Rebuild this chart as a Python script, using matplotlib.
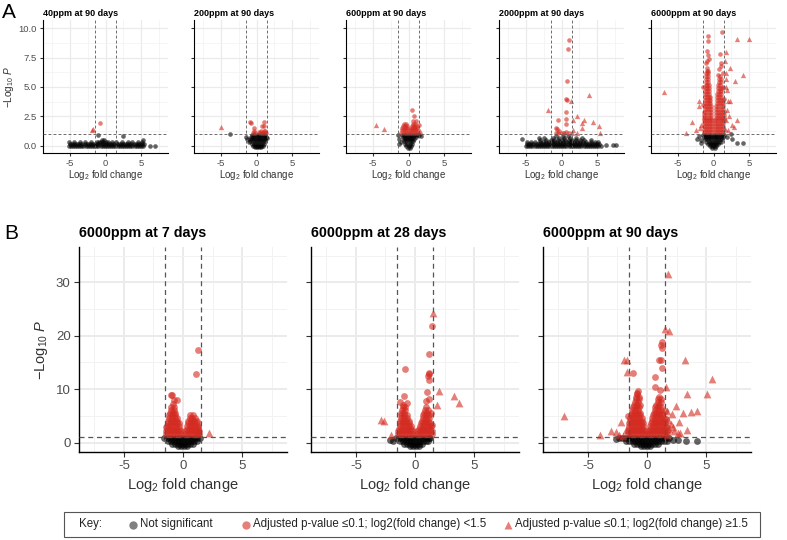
import matplotlib.pyplot as plt
from matplotlib.lines import Line2D
from matplotlib.patches import Rectangle

plt.rcParams['font.family'] = ['Liberation Sans', 'DejaVu Sans']
plt.rcParams['mathtext.fontset'] = 'custom'
plt.rcParams['mathtext.rm'] = 'Liberation Sans'
plt.rcParams['mathtext.it'] = 'Liberation Sans:italic'
plt.rcParams['axes.unicode_minus'] = False

RED = '#D42A20'

# ---- data: (y, [x ...]) rows for the dense clouds, (x, y) for single points ----
top_titles = ['40ppm at 90 days', '200ppm at 90 days', '600ppm at 90 days',
              '2000ppm at 90 days', '6000ppm at 90 days']
bottom_titles = ['6000ppm at 7 days', '6000ppm at 28 days', '6000ppm at 90 days']

# 40ppm, 90 days
a40_ns_rows = [
    (0.0, [-5.2, -4.9, -4.6, -4.3, -4.0, -3.7, -3.4, -3.1, -2.8, -2.5, -2.2, -1.9, -1.6, -1.3, -1.0, -0.7,
           -0.4, -0.1, 0.2, 0.5, 0.8, 1.1, 1.4, 1.7, 2.0, 2.3, 2.6, 2.9, 3.2, 3.5, 3.8, 4.1, 4.4, 4.7, 5.0, 5.3]),
    (0.16, [-5.05, -4.75, -4.45, -4.15, -3.85, -3.55, -3.25, -2.95, -2.65, -2.35, -2.05, -1.75, -1.45, -1.15,
            -0.85, -0.55, -0.25, 0.05, 0.35, 0.65, 0.95, 1.25, 1.55, 1.85, 2.15, 2.45, 2.75, 3.05, 3.35,
            3.65, 3.95, 4.25, 4.55, 4.85, 5.15, 5.45]),
    (0.32, [-5.1, -4.4, -3.6, -2.9, -2.0, -1.2, -0.9, -0.6, -0.3, 0.0, 0.4, 0.9, 1.5, 2.3, 3.1, 3.8, 4.6, 5.2]),
]
a40_ns_pts = [(-0.5, 0.5), (-0.2, 0.45), (-1.0, 0.9), (2.4, 0.8), (5.3, 0.5), (6.3, 0.0), (7.0, 0.0)]
a40_sig_rows = []
a40_sig_pts = [(-0.8, 1.9)]
a40_up_pts = [(-1.95, 1.35), (-1.75, 1.45)]

# 200ppm, 90 days
a200_ns_rows = [
    (0.9, [-0.6, -0.3, 0.0, 0.3, 0.6, 0.9, 1.2]),
    (0.72, [-0.8, -0.5, -0.2, 0.1, 0.4, 0.7, 1.0, 1.3]),
    (0.54, [-0.9, -0.6, -0.3, 0.0, 0.3, 0.6, 0.9, 1.2]),
    (0.36, [-0.85, -0.55, -0.25, 0.05, 0.35, 0.65, 0.95, 1.2]),
    (0.18, [-0.7, -0.4, -0.1, 0.2, 0.5, 0.8, 1.0]),
    (0.0, [-0.5, -0.2, 0.1, 0.4, 0.7, 0.9]),
    (-0.15, [-0.2, 0.1, 0.4, 0.6]),
]
a200_ns_pts = [(-3.7, 1.0), (-1.5, 0.7), (-1.3, 0.55), (-1.1, 0.35), (1.5, 0.65)]
a200_sig_rows = [
    (1.08, [-0.5, -0.2, 0.5, 0.8, 1.1, 1.3]),
    (1.28, [-0.4, 0.7, 1.0, 1.2]),
]
a200_sig_pts = [(-0.9, 2.0), (-0.8, 1.95), (1.0, 2.0), (0.75, 1.65), (1.1, 1.65), (-0.4, 1.5), (0.3, 1.2)]
a200_up_pts = [(-5.0, 1.6)]

# 600ppm, 90 days
a600_ns_rows = [
    (0.9, [-0.9, -0.6, -0.3, 0.0, 0.3, 0.6, 0.9, 1.2]),
    (0.72, [-0.8, -0.5, -0.2, 0.1, 0.4, 0.7, 1.0]),
    (0.54, [-0.7, -0.4, -0.1, 0.2, 0.5, 0.8]),
    (0.36, [-0.6, -0.3, 0.0, 0.3, 0.6]),
    (0.18, [-0.45, -0.15, 0.15, 0.45]),
    (0.0, [-0.3, 0.0, 0.3]),
    (-0.18, [-0.1, 0.2]),
]
a600_ns_pts = [(-1.5, 0.9), (-1.3, 0.6), (-1.1, 0.3), (-1.4, 0.15), (1.5, 0.9), (1.7, 0.85)]
a600_sig_rows = [
    (1.1, [-1.0, -0.7, -0.4, -0.1, 0.2, 0.5, 0.8, 1.1, 1.4]),
    (1.3, [-0.9, -0.6, -0.3, 0.0, 0.3, 0.6, 0.9, 1.2]),
    (1.5, [-0.85, -0.55, -0.25, 0.35, 0.65, 0.95, 1.25]),
    (1.7, [-0.8, -0.5, -0.2, 0.5, 0.8, 1.05]),
    (1.85, [-0.6, -0.3, 0.6, 0.9]),
]
a600_sig_pts = [(0.55, 3.0), (0.8, 2.55), (1.45, 1.8), (1.0, 2.1), (0.65, 2.1)]
a600_up_pts = [(-4.6, 1.8), (-3.5, 1.4), (1.6, 1.25)]

# 2000ppm, 90 days
a2000_ns_rows = [
    (0.0, [-5.0, -4.7, -4.4, -4.1, -3.8, -3.5, -3.2, -2.9, -2.6, -2.3, -2.0, -1.7, -1.4, -1.1, -0.8, -0.5,
           -0.2, 0.1, 0.4, 0.7, 1.0, 1.3, 1.6, 1.9, 2.2, 2.5, 2.8, 3.1, 3.4, 3.7, 4.0, 4.3, 4.6, 4.9, 5.2, 5.5]),
    (0.16, [-4.85, -4.55, -4.25, -3.95, -3.65, -3.35, -3.05, -2.75, -2.45, -2.15, -1.85, -1.55, -1.25, -0.95,
            -0.65, -0.35, -0.05, 0.25, 0.55, 0.85, 1.15, 1.45, 1.75, 2.05, 2.35, 2.65, 2.95, 3.25, 3.55,
            3.85, 4.15, 4.45, 4.75, 5.05, 5.35]),
    (0.32, [-4.9, -4.3, -3.8, -3.0, -2.6, -2.2, -1.8, -1.4, -1.0, -0.6, -0.2, 0.2, 0.6, 1.0, 1.4, 1.8, 2.2,
            2.6, 3.0, 3.5, 4.1, 4.7, 5.2]),
    (0.5, [-3.0, -2.2, -1.5, -1.0, -0.5, 0.0, 0.5, 1.0, 1.5, 2.0, 2.6, 3.2, 4.1]),
    (0.66, [-3.2, -2.5, -1.2, -0.3, 0.4, 1.2, 2.0, 2.9]),
]
a2000_ns_pts = [(-5.6, 0.6), (-0.8, 0.8), (0.2, 0.85), (0.9, 0.8), (6.3, 0.1), (7.3, 0.1), (7.7, 0.1)]
a2000_sig_rows = []
a2000_sig_pts = [(1.02, 9.0), (0.88, 8.2), (0.83, 5.5), (0.65, 4.0), (0.74, 3.85), (0.6, 2.9), (-0.46, 2.2),
                 (0.7, 2.3), (-0.8, 1.5), (-0.65, 1.4), (0.6, 1.87), (0.7, 1.13), (-0.8, 1.05), (-0.5, 1.05),
                 (0.1, 1.05), (0.4, 1.1), (-0.3, 1.25), (1.0, 1.05)]
a2000_up_pts = [(3.84, 4.3), (1.34, 3.8), (-1.94, 3.0), (2.2, 2.5), (1.57, 2.15), (3.15, 2.2), (2.87, 1.95),
                (4.5, 2.0), (2.82, 1.5), (5.3, 1.7), (1.43, 1.05), (2.2, 1.05), (5.4, 1.05), (1.6, 1.3)]

# 6000ppm, 90 days (top row)
a6000_ns_rows = [
    (0.95, [-1.5, -1.2, -0.9, -0.6, -0.3, 0.0, 0.3, 0.6, 0.9, 1.2, 1.5]),
    (0.75, [-1.4, -1.1, -0.8, -0.5, -0.2, 0.1, 0.4, 0.7, 1.0, 1.3]),
    (0.55, [-1.2, -0.9, -0.6, -0.3, 0.0, 0.3, 0.6, 0.9, 1.2]),
    (0.35, [-1.0, -0.7, -0.4, -0.1, 0.2, 0.5, 0.8, 1.0]),
    (0.15, [-0.8, -0.5, -0.2, 0.1, 0.4, 0.7]),
    (-0.05, [-0.5, -0.2, 0.1, 0.4]),
    (-0.22, [-0.15, 0.15]),
]
a6000_ns_pts = [(-2.0, 0.8), (-1.8, 0.5), (-2.3, 0.6), (-1.7, 0.25), (2.45, 1.0), (2.55, 0.6), (1.9, 0.7),
                (3.3, 0.2), (4.2, 0.2)]
a6000_sig_rows = [
    (1.15, [-1.4, -1.1, -0.8, -0.5, -0.2, 0.2, 0.5, 0.8, 1.1, 1.4]),
    (1.4, [-1.4, -1.1, -0.8, -0.5, -0.2, 0.2, 0.5, 0.8, 1.1, 1.4]),
    (1.65, [-1.4, -1.1, -0.8, -0.5, -0.2, 0.2, 0.5, 0.8, 1.1, 1.4]),
    (1.9, [-1.4, -1.1, -0.8, -0.5, -0.2, 0.2, 0.5, 0.8, 1.1, 1.4]),
    (2.15, [-1.35, -1.05, -0.75, -0.45, -0.2, 0.25, 0.55, 0.85, 1.15, 1.45]),
    (2.4, [-1.3, -1.0, -0.7, -0.4, 0.3, 0.6, 0.9, 1.2, 1.45]),
    (2.65, [-1.3, -1.0, -0.7, -0.4, 0.3, 0.6, 0.9, 1.2, 1.45]),
    (2.9, [-1.3, -1.0, -0.7, -0.4, 0.3, 0.6, 0.9, 1.2, 1.45]),
    (3.15, [-1.25, -0.95, -0.65, -0.4, 0.4, 0.7, 1.0, 1.3]),
    (3.4, [-1.25, -0.95, -0.65, -0.4, 0.4, 0.7, 1.0, 1.3]),
    (3.65, [-1.2, -0.95, -0.7, -0.45, 0.5, 0.8, 1.1, 1.35]),
    (3.9, [-1.2, -0.95, -0.7, -0.45, 0.5, 0.8, 1.1, 1.35]),
    (4.15, [-1.2, -0.95, -0.7, -0.45, 0.5, 0.8, 1.1]),
    (4.4, [-1.15, -0.9, -0.65, 0.55, 0.8, 1.1]),
    (4.65, [-1.15, -0.9, -0.65, 0.6, 0.85, 1.1]),
    (4.9, [-1.1, -0.85, -0.6, 0.7, 0.95, 1.2]),
    (5.15, [-1.1, -0.85, -0.6, 0.7, 0.95]),
    (5.4, [-1.05, -0.8, 0.75, 1.0]),
    (5.65, [-1.05, -0.8, 0.8, 1.0]),
    (5.9, [-1.0, -0.75, 0.85]),
    (6.15, [-1.0, -0.75]),
    (6.4, [-0.95, -0.75]),
    (6.65, [-0.9]),
]
a6000_sig_pts = [(-0.9, 7.2), (-0.8, 7.7), (-0.85, 8.1), (-0.74, 8.9), (-0.8, 9.3), (-1.1, 7.0), (-0.6, 7.4),
                 (1.16, 9.7), (0.88, 7.8), (1.0, 7.0), (0.8, 6.5), (1.3, 6.2), (0.7, 6.0), (1.0, 6.8),
                 (-1.45, 5.0), (-1.5, 3.5), (1.4, 5.0), (1.5, 4.0)]
a6000_up_pts = [(3.33, 9.1), (5.0, 9.1), (-6.9, 4.6), (4.1, 6.0), (3.05, 5.5), (2.3, 6.6), (-2.1, 3.8),
                (-2.1, 3.4), (-3.05, 2.0), (-3.85, 1.1), (3.33, 2.2), (2.0, 3.8), (2.3, 3.8), (1.8, 5.0),
                (1.9, 4.7), (1.7, 6.2), (1.8, 5.7), (1.9, 3.0), (2.2, 2.5), (2.6, 1.8), (2.9, 1.6),
                (-1.7, 1.8), (-1.9, 1.5), (-2.5, 1.3), (1.6, 7.2), (1.7, 8.0), (2.0, 1.3), (1.7, 2.2),
                (1.65, 1.4)]

# 6000ppm, 7 days
b7_ns_rows = [
    (0.8, [-1.6, -1.35, -1.1, -0.85, -0.6, -0.35, -0.1, 0.15, 0.4, 0.65, 0.9, 1.15, 1.4]),
    (0.3, [-1.3, -1.05, -0.8, -0.55, -0.3, -0.05, 0.2, 0.45, 0.7, 0.95, 1.2]),
    (-0.2, [-0.9, -0.65, -0.4, -0.15, 0.1, 0.35, 0.6, 0.85]),
    (-0.6, [-0.4, -0.15, 0.1, 0.35]),
]
b7_ns_pts = []
b7_sig_rows = [
    (1.6, [-1.4, -1.15, -0.9, -0.65, -0.4, -0.15, 0.15, 0.4, 0.65, 0.9, 1.15, 1.35]),
    (2.1, [-1.4, -1.15, -0.9, -0.65, -0.4, -0.15, 0.15, 0.4, 0.65, 0.9, 1.15, 1.35]),
    (2.6, [-1.35, -1.1, -0.85, -0.6, -0.35, 0.3, 0.55, 0.8, 1.05, 1.3]),
    (3.1, [-1.35, -1.1, -0.85, -0.6, -0.35, 0.3, 0.55, 0.8, 1.05, 1.3]),
    (3.6, [-1.3, -1.05, -0.8, -0.55, -0.35, 0.4, 0.65, 0.9, 1.15]),
    (4.1, [-1.25, -1.0, -0.75, -0.5, 0.45, 0.7, 0.95, 1.15]),
    (4.6, [-1.2, -0.95, -0.7, -0.5, 0.55, 0.8, 1.05]),
    (5.1, [-1.15, -0.9, -0.65, 0.6, 0.85]),
    (5.6, [-1.1, -0.85, -0.65]),
    (6.1, [-1.05, -0.8]),
    (6.6, [-1.0, -0.75]),
]
b7_sig_pts = [(1.27, 17.4), (1.1, 12.8), (-1.0, 9.0), (-0.9, 9.0), (-0.8, 8.0), (-0.55, 8.0), (-0.85, 7.2),
              (-1.4, 3.0), (1.25, 3.0), (1.3, 1.9)]
b7_up_pts = [(2.2, 1.9)]

# 6000ppm, 28 days
b28_ns_rows = [
    (0.8, [-1.6, -1.35, -1.1, -0.85, -0.6, -0.35, -0.1, 0.15, 0.4, 0.65, 0.9, 1.15, 1.3]),
    (0.3, [-1.3, -1.05, -0.8, -0.55, -0.3, -0.05, 0.2, 0.45, 0.7, 0.95, 1.1]),
    (-0.2, [-0.9, -0.65, -0.4, -0.15, 0.1, 0.35, 0.6]),
    (-0.6, [-0.45, -0.2, 0.05, 0.3]),
]
b28_ns_pts = [(-1.85, 0.25), (-2.1, 0.5)]
b28_sig_rows = [
    (1.6, [-1.4, -1.15, -0.9, -0.65, -0.4, -0.15, 0.15, 0.4, 0.65, 0.9, 1.15, 1.4]),
    (2.1, [-1.4, -1.15, -0.9, -0.65, -0.4, -0.15, 0.15, 0.4, 0.65, 0.9, 1.15, 1.4]),
    (2.6, [-1.35, -1.1, -0.85, -0.6, -0.35, 0.3, 0.55, 0.8, 1.05, 1.3]),
    (3.1, [-1.3, -1.05, -0.8, -0.55, -0.35, 0.4, 0.65, 0.9, 1.15, 1.35]),
    (3.6, [-1.3, -1.05, -0.8, -0.55, 0.5, 0.75, 1.0, 1.25]),
    (4.1, [-1.25, -1.0, -0.75, -0.55, 0.6, 0.85, 1.1]),
    (4.6, [-1.2, -0.95, -0.7, 0.65, 0.9, 1.15]),
    (5.1, [-1.2, -0.95, -0.7, 0.7, 0.95, 1.2]),
    (5.6, [-1.15, -0.9, 0.8, 1.05]),
    (6.1, [-1.1, -0.85, 0.85, 1.1]),
    (6.6, [-1.05, -0.85, 0.95]),
    (7.1, [-1.0]),
]
b28_sig_pts = [(1.41, 21.9), (1.21, 16.6), (-0.82, 13.8), (1.15, 13.1), (1.2, 12.9), (1.1, 12.5), (1.2, 11.8),
               (-0.96, 8.8), (1.0, 9.5), (1.2, 8.2), (0.95, 7.8), (-1.3, 7.6), (-0.7, 7.4), (1.35, 5.5),
               (1.4, 3.4)]
b28_up_pts = [(1.55, 24.2), (2.0, 9.6), (3.3, 8.8), (3.7, 7.4), (1.9, 7.0), (-2.85, 4.3), (-2.65, 4.1),
              (-2.05, 1.5)]

# 6000ppm, 90 days (bottom row)
b90_ns_rows = [
    (0.8, [-2.4, -2.15, -1.9, -1.65, -1.4, -1.15, -0.9, -0.65, -0.4, -0.15, 0.1, 0.35, 0.6, 0.85, 1.1, 1.35,
           1.6, 1.9]),
    (0.3, [-1.8, -1.55, -1.3, -1.05, -0.8, -0.55, -0.3, -0.05, 0.2, 0.45, 0.7, 0.95, 1.2, 1.45, 1.7]),
    (-0.2, [-1.1, -0.85, -0.6, -0.35, -0.1, 0.15, 0.4, 0.65, 0.9]),
    (-0.6, [-0.5, -0.25, 0.0, 0.25]),
]
b90_ns_pts = [(2.6, 0.56), (3.3, 0.24), (4.27, 0.24), (-2.6, 0.7), (2.2, 0.5)]
b90_sig_rows = [
    (1.6, [-1.6, -1.35, -1.1, -0.85, -0.6, -0.35, -0.1, 0.15, 0.4, 0.65, 0.9, 1.15, 1.4, 1.65]),
    (2.1, [-1.6, -1.35, -1.1, -0.85, -0.6, -0.35, -0.1, 0.15, 0.4, 0.65, 0.9, 1.15, 1.4, 1.65]),
    (2.6, [-1.55, -1.3, -1.05, -0.8, -0.55, -0.3, 0.25, 0.5, 0.75, 1.0, 1.25, 1.5]),
    (3.1, [-1.55, -1.3, -1.05, -0.8, -0.55, -0.3, 0.25, 0.5, 0.75, 1.0, 1.25, 1.5]),
    (3.6, [-1.5, -1.25, -1.0, -0.75, -0.5, -0.3, 0.3, 0.55, 0.8, 1.05, 1.3, 1.5]),
    (4.1, [-1.45, -1.2, -0.95, -0.7, -0.45, 0.4, 0.65, 0.9, 1.15, 1.4]),
    (4.6, [-1.4, -1.15, -0.9, -0.65, -0.45, 0.45, 0.7, 0.95, 1.2, 1.4]),
    (5.1, [-1.35, -1.1, -0.85, -0.6, 0.5, 0.75, 1.0, 1.25]),
    (5.6, [-1.3, -1.05, -0.8, -0.6, 0.55, 0.8, 1.05, 1.3]),
    (6.1, [-1.25, -1.0, -0.75, 0.65, 0.9, 1.15]),
    (6.6, [-1.2, -0.95, -0.7, 0.7, 0.95, 1.2]),
    (7.1, [-1.1, -0.85, -0.6, 0.8, 1.05]),
    (7.6, [-1.0, -0.75, 0.9, 1.15]),
    (8.1, [-0.95, -0.7, 0.95, 1.2]),
    (8.6, [-0.9, -0.7, 1.05]),
    (9.1, [-0.85]),
    (9.6, [-0.8]),
]
b90_sig_pts = [(1.27, 18.9), (1.2, 18.2), (1.25, 17.8), (0.99, 15.4), (1.16, 15.4), (1.3, 14.0), (0.69, 12.3),
               (0.69, 10.5), (1.13, 9.8), (-0.83, 9.3), (-1.21, 13.0), (1.5, 6.0), (1.6, 4.5), (1.7, 3.0),
               (-1.6, 5.0)]
b90_up_pts = [(1.76, 31.6), (1.5, 21.3), (1.9, 20.8), (3.2, 15.5), (-1.96, 15.4), (-1.7, 15.4), (-1.73, 13.3),
              (5.5, 11.9), (1.62, 10.5), (3.35, 9.2), (5.05, 9.2), (-7.0, 4.9), (-2.16, 3.8), (-3.05, 2.2),
              (-3.98, 1.4), (-2.4, 1.5), (-2.0, 1.3), (-1.8, 2.3), (-2.6, 2.0), (1.7, 1.5), (1.9, 2.5),
              (2.0, 3.5), (2.16, 3.0), (2.08, 5.3), (2.42, 6.8), (2.7, 3.9), (3.06, 5.6), (3.75, 5.7),
              (4.19, 6.0), (3.4, 2.3), (2.6, 1.8), (2.8, 1.8), (1.8, 4.3), (1.7, 6.0), (2.3, 2.2)]

key_labels = ['Not significant',
              'Adjusted p-value \u22640.1; log2(fold change) <1.5',
              'Adjusted p-value \u22640.1; log2(fold change) \u22651.5']

FC_CUT = 1.5
P_CUT = 1.0


def unroll(rows, pts):
    xs, ys = [], []
    for y, xrow in rows:
        for x in xrow:
            xs.append(x)
            ys.append(y)
    for x, y in pts:
        xs.append(x)
        ys.append(y)
    return xs, ys


def volcano(ax, ns, sig, up, big):
    size = 24 if big else 11
    ax.scatter(*ns, s=size, c='black', alpha=0.6, lw=0, zorder=3)
    ax.scatter(*sig, s=size, c=RED, alpha=0.6, lw=0, zorder=3)
    ax.scatter(*up, s=size * 1.3, c=RED, alpha=0.6, lw=0, marker='^', zorder=3)

    lw = 0.9 if big else 0.6
    dash = (0, (4, 3)) if big else (0, (3.5, 2.5))
    for xv in (-FC_CUT, FC_CUT):
        ax.axvline(xv, color='#555555', lw=lw, ls=dash, zorder=4)
    ax.axhline(P_CUT, color='#555555', lw=lw, ls=dash, zorder=4)

    ax.set_xlim(-8.8, 8.8)
    ax.set_xticks([-5, 0, 5])
    ax.set_xticks([-7.5, -2.5, 2.5, 7.5], minor=True)
    if big:
        ax.set_ylim(-1.74, 36.6)
        ax.set_yticks([0, 10, 20, 30])
        ax.set_yticks([5, 15, 25, 35], minor=True)
    else:
        ax.set_ylim(-0.62, 10.7)
        ax.set_yticks([0, 2.5, 5, 7.5, 10])
        ax.set_yticklabels(['0.0', '2.5', '5.0', '7.5', '10.0'])
        ax.set_yticks([1.25, 3.75, 6.25, 8.75], minor=True)
    ax.grid(which='major', color='#EBEBEB', lw=1.4 if big else 0.9, zorder=0)
    ax.grid(which='minor', color='#F2F2F2', lw=0.7 if big else 0.5, zorder=0)
    ax.set_axisbelow(True)
    for side in ('top', 'right'):
        ax.spines[side].set_visible(False)
    for side in ('left', 'bottom'):
        ax.spines[side].set_linewidth(1.0 if big else 0.8)
    fs = 9.5 if big else 6.8
    ax.tick_params(which='major', length=3.5 if big else 2.5, width=0.8, color='#333333',
                   labelsize=fs, labelcolor='#4D4D4D', pad=2.5 if big else 2)
    ax.tick_params(which='minor', length=0)


fig = plt.figure(figsize=(7.87, 5.40), dpi=100)
W, H = 787.0, 540.0

top_data = [
    (a40_ns_rows, a40_ns_pts, a40_sig_rows, a40_sig_pts, a40_up_pts),
    (a200_ns_rows, a200_ns_pts, a200_sig_rows, a200_sig_pts, a200_up_pts),
    (a600_ns_rows, a600_ns_pts, a600_sig_rows, a600_sig_pts, a600_up_pts),
    (a2000_ns_rows, a2000_ns_pts, a2000_sig_rows, a2000_sig_pts, a2000_up_pts),
    (a6000_ns_rows, a6000_ns_pts, a6000_sig_rows, a6000_sig_pts, a6000_up_pts),
]
bottom_data = [
    (b7_ns_rows, b7_ns_pts, b7_sig_rows, b7_sig_pts, b7_up_pts),
    (b28_ns_rows, b28_ns_pts, b28_sig_rows, b28_sig_pts, b28_up_pts),
    (b90_ns_rows, b90_ns_pts, b90_sig_rows, b90_sig_pts, b90_up_pts),
]

xlab = r'Log$_2$ fold change'
ylab = r'$-$Log$_{10}$ $P$'

top_lefts = [43, 194, 346, 499, 651]
for i, (nsr, nsp, sgr, sgp, upp) in enumerate(top_data):
    ax = fig.add_axes([top_lefts[i] / W, (H - 153) / H, 125 / W, 133 / H])
    volcano(ax, unroll(nsr, nsp), unroll(sgr, sgp), unroll([], upp), big=False)
    ax.set_title(top_titles[i], loc='left', fontsize=6.5, fontweight='bold', pad=3)
    ax.set_xlabel(xlab, fontsize=7, color='#333333', labelpad=0)
    if i == 0:
        ax.set_ylabel(ylab, fontsize=7.2, color='#333333')
        ax.yaxis.set_label_coords(-0.215, 0.5)
    else:
        ax.tick_params(axis='y', labelleft=False)

bot_lefts = [79, 311, 543]
for i, (nsr, nsp, sgr, sgp, upp) in enumerate(bottom_data):
    ax = fig.add_axes([bot_lefts[i] / W, (H - 452) / H, 208 / W, 205 / H])
    volcano(ax, unroll(nsr, nsp), unroll(sgr, sgp), unroll([], upp), big=True)
    ax.set_title(bottom_titles[i], loc='left', fontsize=10.3, fontweight='bold', pad=7)
    ax.set_xlabel(xlab, fontsize=10.5, color='#333333', labelpad=3)
    if i == 0:
        ax.set_ylabel(ylab, fontsize=10.5, color='#333333')
        ax.yaxis.set_label_coords(-0.14, 0.5)
    else:
        ax.tick_params(axis='y', labelleft=False)

fig.text(2 / W, 1 - 3 / H, 'A', fontsize=15, va='top', ha='left')
fig.text(4 / W, 1 - 224 / H, 'B', fontsize=15, va='top', ha='left')

# key box
fig.add_artist(Rectangle((64 / W, 3 / H), 696 / W, 25 / H, transform=fig.transFigure,
                         fill=False, ec='#555555', lw=0.8))
ky = (H - 524.5) / H
kfs = 8.3
fig.text(79 / W, ky, 'Key:', fontsize=kfs, va='center', color='#222222')
marks = [('o', '#808080', 1.0, 133), ('o', RED, 0.6, 246), ('^', RED, 0.6, 508)]
for (mk, col, al, xp), lab in zip(marks, key_labels):
    fig.add_artist(Line2D([xp / W], [ky], marker=mk, color=col, alpha=al, ms=6, lw=0,
                          mec='none', transform=fig.transFigure))
    fig.text((xp + 7) / W, ky, lab, fontsize=kfs, va='center', color='#222222')

fig.savefig('out.png', dpi=100)
